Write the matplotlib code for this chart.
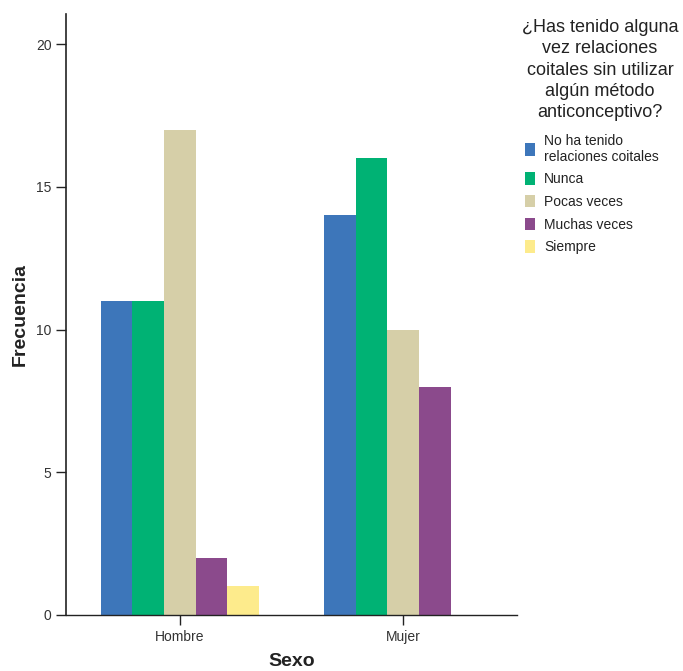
import matplotlib
matplotlib.use("Agg")
import matplotlib.pyplot as plt
import numpy as np

plt.rcParams['font.family'] = ['Liberation Sans', 'DejaVu Sans']

categories = ["Hombre", "Mujer"]
series_names = ["No ha tenido\nrelaciones coitales", "Nunca", "Pocas veces", "Muchas veces", "Siempre"]
values = {
    "No ha tenido\nrelaciones coitales": [11, 14],
    "Nunca": [11, 16],
    "Pocas veces": [17, 10],
    "Muchas veces": [2, 8],
    "Siempre": [1, 0],
}
colors = ["#3D76BA", "#00B274", "#D6CFA8", "#8B4A8C", "#FDEB8C"]
yticks = [0, 5, 10, 15, 20]
legend_title = "¿Has tenido alguna\nvez relaciones\ncoitales sin utilizar\nalgún método\nanticonceptivo?"

fig = plt.figure(figsize=(6.83, 6.71), dpi=100)
ax = fig.add_axes([0.0966, 0.0835, 0.6604, 0.8955])

x = np.arange(len(categories))
w = 0.142
n = len(series_names)
for i, (name, c) in enumerate(zip(series_names, colors)):
    off = (i - (n - 1) / 2) * w
    ax.bar(x + off, values[name], width=w, color=c, label=name, edgecolor='none')

ax.set_xlim(-0.511, 1.511)
ax.set_ylim(0, 21.05)
ax.set_yticks(yticks)
ax.set_xticks(x)
ax.set_xticklabels(categories, fontsize=10, color='#333333')
ax.tick_params(axis='y', labelsize=10, length=7, width=1, color='#222222', labelcolor='#333333', direction='out')
ax.tick_params(axis='x', length=7, width=1, color='#222222', direction='out')
for s in ['top', 'right']:
    ax.spines[s].set_visible(False)
ax.spines['left'].set_color('#222222')
ax.spines['bottom'].set_color('#222222')
ax.spines['left'].set_linewidth(1.2)
ax.spines['bottom'].set_linewidth(1)

ax.set_ylabel("Frecuencia", fontsize=14, fontweight='bold', color='#222222', va='center')
ax.yaxis.set_label_coords(-0.102, 0.5)
ax.set_xlabel("Sexo", fontsize=14, fontweight='bold', color='#222222', va='center')
ax.xaxis.set_label_coords(0.5, -0.077)

fig.text(600 / 683, 1 - 19 / 671, legend_title, ha='center', va='top', multialignment='center',
         fontsize=13, color='#222222', linespacing=1.33)

handles, labels = ax.get_legend_handles_labels()
leg = fig.legend(handles, labels, loc='upper left', bbox_to_anchor=(0.769, 0.801), frameon=False,
                 borderaxespad=0, borderpad=0,
                 fontsize=10, handlelength=0.7, handleheight=1.0,
                 handletextpad=0.65, labelspacing=0.62)
for t in leg.get_texts():
    t.set_color('#222222')

fig.savefig("out.png", dpi=100)
